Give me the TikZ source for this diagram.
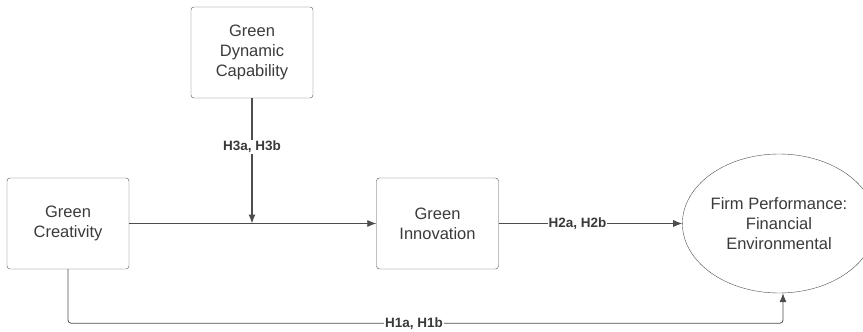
\documentclass[tikz,border=0pt]{standalone}
\usepackage{fontspec}
\setmainfont{Liberation Sans}
\usepackage{tikz}
\usetikzlibrary{positioning,arrows.meta}
\usetikzlibrary{shapes.geometric}
\definecolor{txtgray}{HTML}{3A3A3A}
\definecolor{linegray}{HTML}{4D4D4D}
\tikzstyle{box} = [draw=linegray, rounded corners=3pt, minimum width=122pt, minimum height=91pt, align=center, text=txtgray, font=\fontsize{16.5}{20}\selectfont]
\tikzstyle{conn} = [draw=linegray, line width=0.8pt, -{Latex[length=9pt,width=7pt]}]
\tikzstyle{lbl} = [fill=white, inner sep=1pt, text=txtgray, font=\fontsize{13.5}{15}\selectfont\bfseries]

\begin{document}
\begin{tikzpicture}[x=1pt,y=1pt]
    \useasboundingbox (0,0) rectangle (863,-332);

    % Draw the four constructs
    \node[box] (dyn) at (252,-52.5) {Green\\Dynamic\\Capability};
    \node[box] (cre) at (68,-223.5) {Green\\Creativity};
    \node[box] (inn) at (437.5,-223.5) {Green\\Innovation};
    \node[draw=linegray, ellipse, minimum width=168pt, minimum height=139pt, inner sep=0pt,
          align=center, text=txtgray, font=\fontsize{16.5}{20}\selectfont] (perf) at (779,-223.5)
          {Firm Performance:\\Financial\\Environmental};

    % Draw the paths
    \draw[conn] (cre.east) -- (inn.west);
    \coordinate (mod) at (dyn.south |- cre.east);
    \draw[conn, line width=1.2pt] (dyn.south) -- node[lbl, pos=0.39] (h3) {H3a, H3b} (mod);
    \draw[conn] (inn.east) -- node[lbl, pos=0.43] (h2) {H2a, H2b} (perf.west);
    \draw[conn, rounded corners=3pt] (cre.south) -- ++(0,-54) coordinate (h1c)
        -| node[lbl, pos=0.242] (h1) {H1a, H1b} ([xshift=4pt]perf.south);

\end{tikzpicture}
\end{document}
